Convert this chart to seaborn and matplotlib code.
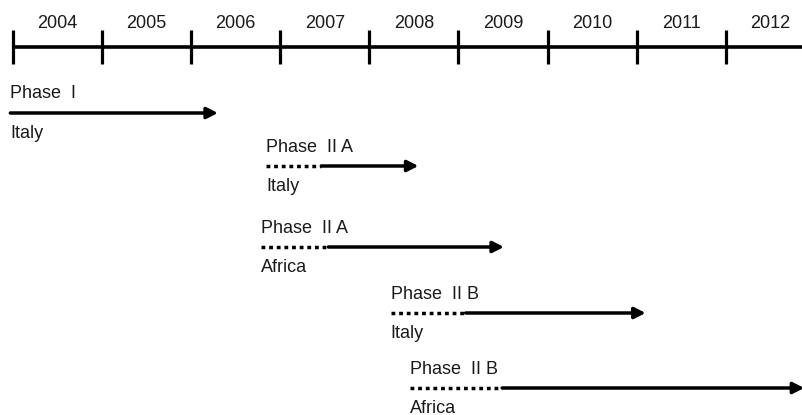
import matplotlib
matplotlib.use("Agg")
import matplotlib.pyplot as plt
import seaborn as sns

# timeline years
years = [2004, 2005, 2006, 2007, 2008, 2009, 2010, 2011, 2012]

# phases (label above the arrow, site below)
phases = ["Phase  I", "Phase  II A", "Phase  II A", "Phase  II B", "Phase  II B"]
sites = ["Italy", "Italy", "Africa", "Italy", "Africa"]
plan_start = [None, 2006.84, 2006.78, 2008.24, 2008.46]   # dotted part starts
run_start = [2003.97, 2007.46, 2007.54, 2009.08, 2009.49]  # solid part starts
run_end = [2006.30, 2008.55, 2009.51, 2011.10, 2012.88]    # arrow tip

sns.set_theme(style="white")
plt.rcParams["font.family"] = ["Liberation Sans", "DejaVu Sans"]

W, H = 803, 415
x0, step = 13, 89.1  # pixel of 2004 and pixels per year

fig = plt.figure(figsize=(W / 100, H / 100), dpi=100)
ax = fig.add_axes([0, 0, 1, 1])
ax.set_xlim(years[0] - x0 / step, years[0] + (W - x0) / step)
ax.set_ylim(H, 0)
ax.axis("off")

# top timeline
line_y = 47
ax.hlines(line_y, years[0], ax.get_xlim()[1], color="black", lw=2.6)
ax.vlines(years, line_y - 17, line_y + 17, color="black", lw=2.3)
for yr in years:
    ax.text(yr + 0.5, line_y - 24, str(yr), ha="center", va="center", fontsize=13, color="#1a1a1a")

# phase rows
row_y = [113, 166, 247, 313, 388]
for i in range(len(phases)):
    y = row_y[i]
    left = run_start[i] if plan_start[i] is None else plan_start[i]
    if plan_start[i] is not None:
        ax.plot([plan_start[i], run_start[i]], [y, y], color="black", lw=2.5,
                linestyle=(0, (1.1, 1.1)), dash_capstyle="butt", solid_capstyle="butt")
    ax.annotate("", xy=(run_end[i], y), xytext=(run_start[i], y),
                arrowprops=dict(arrowstyle="-|>,head_length=0.65,head_width=0.33",
                                mutation_scale=10, color="black", lw=2.5,
                                shrinkA=0, shrinkB=0),
                annotation_clip=False)
    ax.text(left, y - 19, phases[i], ha="left", va="center", fontsize=13, color="#1a1a1a")
    ax.text(left, y + 20, sites[i], ha="left", va="center", fontsize=13, color="#1a1a1a")

fig.savefig("out.png", dpi=100)
